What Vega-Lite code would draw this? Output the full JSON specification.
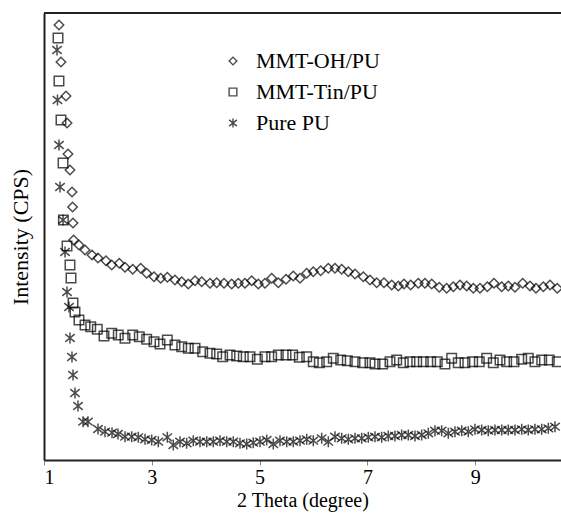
{
"$schema": "https://vega.github.io/schema/vega-lite/v6.json",
"width": 517, "height": 447,
"autosize": "none",
"padding": {"left": 44, "top": 13, "right": 0, "bottom": 62},
"background": "white",
"config": {"view": {"stroke": null}, "font": "Liberation Serif",
  "axis": {"labelFont": "Liberation Serif", "titleFont": "Liberation Serif"},
  "legend": {"labelFont": "Liberation Serif"},
  "text": {"font": "Liberation Serif"}},
"datasets": {
"pts": [
{"series":"MMT-OH/PU","x":1.278,"y":435},{"series":"MMT-OH/PU","x":1.315,"y":398},{"series":"MMT-OH/PU","x":1.408,"y":364},{"series":"MMT-OH/PU","x":1.427,"y":337},{"series":"MMT-OH/PU","x":1.445,"y":306},{"series":"MMT-OH/PU","x":1.482,"y":290},{"series":"MMT-OH/PU","x":1.52,"y":268},{"series":"MMT-OH/PU","x":1.53,"y":253},{"series":"MMT-OH/PU","x":1.538,"y":237},{"series":"MMT-OH/PU","x":1.55,"y":220},{"series":"MMT-OH/PU","x":1.649,"y":215},{"series":"MMT-OH/PU","x":1.761,"y":210},{"series":"MMT-OH/PU","x":1.891,"y":205},{"series":"MMT-OH/PU","x":2.002,"y":202},{"series":"MMT-OH/PU","x":2.15,"y":199.3},{"series":"MMT-OH/PU","x":2.256,"y":195},{"series":"MMT-OH/PU","x":2.397,"y":196.7},{"series":"MMT-OH/PU","x":2.503,"y":192.7},{"series":"MMT-OH/PU","x":2.646,"y":190.7},{"series":"MMT-OH/PU","x":2.794,"y":191.7},{"series":"MMT-OH/PU","x":2.905,"y":186.7},{"series":"MMT-OH/PU","x":3.041,"y":183.3},{"series":"MMT-OH/PU","x":3.165,"y":181.7},{"series":"MMT-OH/PU","x":3.288,"y":182.7},{"series":"MMT-OH/PU","x":3.43,"y":180},{"series":"MMT-OH/PU","x":3.555,"y":178.3},{"series":"MMT-OH/PU","x":3.677,"y":176},{"series":"MMT-OH/PU","x":3.802,"y":179.3},{"series":"MMT-OH/PU","x":3.926,"y":178.3},{"series":"MMT-OH/PU","x":4.08,"y":176.7},{"series":"MMT-OH/PU","x":4.204,"y":177.3},{"series":"MMT-OH/PU","x":4.34,"y":176.7},{"series":"MMT-OH/PU","x":4.482,"y":176},{"series":"MMT-OH/PU","x":4.605,"y":176.7},{"series":"MMT-OH/PU","x":4.729,"y":176.7},{"series":"MMT-OH/PU","x":4.853,"y":179.3},{"series":"MMT-OH/PU","x":4.976,"y":176},{"series":"MMT-OH/PU","x":5.1,"y":176.7},{"series":"MMT-OH/PU","x":5.224,"y":181.7},{"series":"MMT-OH/PU","x":5.347,"y":177.3},{"series":"MMT-OH/PU","x":5.49,"y":180.7},{"series":"MMT-OH/PU","x":5.625,"y":184},{"series":"MMT-OH/PU","x":5.75,"y":181.7},{"series":"MMT-OH/PU","x":5.874,"y":186.7},{"series":"MMT-OH/PU","x":5.996,"y":188.3},{"series":"MMT-OH/PU","x":6.134,"y":189.3},{"series":"MMT-OH/PU","x":6.275,"y":191.7},{"series":"MMT-OH/PU","x":6.399,"y":191.7},{"series":"MMT-OH/PU","x":6.523,"y":190.7},{"series":"MMT-OH/PU","x":6.646,"y":188.3},{"series":"MMT-OH/PU","x":6.77,"y":186},{"series":"MMT-OH/PU","x":6.924,"y":183.3},{"series":"MMT-OH/PU","x":7.048,"y":180},{"series":"MMT-OH/PU","x":7.173,"y":177.3},{"series":"MMT-OH/PU","x":7.308,"y":177.3},{"series":"MMT-OH/PU","x":7.451,"y":175},{"series":"MMT-OH/PU","x":7.573,"y":174},{"series":"MMT-OH/PU","x":7.679,"y":176},{"series":"MMT-OH/PU","x":7.803,"y":175},{"series":"MMT-OH/PU","x":7.944,"y":176.7},{"series":"MMT-OH/PU","x":8.068,"y":176.7},{"series":"MMT-OH/PU","x":8.193,"y":176},{"series":"MMT-OH/PU","x":8.334,"y":172.7},{"series":"MMT-OH/PU","x":8.471,"y":171.7},{"series":"MMT-OH/PU","x":8.594,"y":173.3},{"series":"MMT-OH/PU","x":8.718,"y":175},{"series":"MMT-OH/PU","x":8.842,"y":174},{"series":"MMT-OH/PU","x":8.965,"y":171.7},{"series":"MMT-OH/PU","x":9.089,"y":171.7},{"series":"MMT-OH/PU","x":9.225,"y":173.3},{"series":"MMT-OH/PU","x":9.349,"y":176.7},{"series":"MMT-OH/PU","x":9.492,"y":173.3},{"series":"MMT-OH/PU","x":9.614,"y":174},{"series":"MMT-OH/PU","x":9.738,"y":172.7},{"series":"MMT-OH/PU","x":9.881,"y":176.7},{"series":"MMT-OH/PU","x":10.017,"y":174},{"series":"MMT-OH/PU","x":10.128,"y":171.7},{"series":"MMT-OH/PU","x":10.264,"y":173.3},{"series":"MMT-OH/PU","x":10.388,"y":175},{"series":"MMT-OH/PU","x":10.523,"y":171.7},
{"series":"MMT-Tin/PU","x":1.26,"y":422},{"series":"MMT-Tin/PU","x":1.278,"y":379},{"series":"MMT-Tin/PU","x":1.315,"y":340},{"series":"MMT-Tin/PU","x":1.353,"y":297},{"series":"MMT-Tin/PU","x":1.36,"y":240},{"series":"MMT-Tin/PU","x":1.427,"y":214},{"series":"MMT-Tin/PU","x":1.482,"y":195},{"series":"MMT-Tin/PU","x":1.501,"y":182},{"series":"MMT-Tin/PU","x":1.538,"y":157},{"series":"MMT-Tin/PU","x":1.575,"y":148},{"series":"MMT-Tin/PU","x":1.649,"y":140},{"series":"MMT-Tin/PU","x":1.761,"y":135},{"series":"MMT-Tin/PU","x":1.867,"y":133.3},{"series":"MMT-Tin/PU","x":1.989,"y":130.7},{"series":"MMT-Tin/PU","x":2.113,"y":124},{"series":"MMT-Tin/PU","x":2.256,"y":126.7},{"series":"MMT-Tin/PU","x":2.378,"y":125},{"series":"MMT-Tin/PU","x":2.503,"y":121.7},{"series":"MMT-Tin/PU","x":2.646,"y":125},{"series":"MMT-Tin/PU","x":2.768,"y":123.3},{"series":"MMT-Tin/PU","x":2.905,"y":120.7},{"series":"MMT-Tin/PU","x":3.041,"y":118.3},{"series":"MMT-Tin/PU","x":3.152,"y":116},{"series":"MMT-Tin/PU","x":3.288,"y":120},{"series":"MMT-Tin/PU","x":3.43,"y":115},{"series":"MMT-Tin/PU","x":3.555,"y":113.3},{"series":"MMT-Tin/PU","x":3.677,"y":111.7},{"series":"MMT-Tin/PU","x":3.802,"y":111.7},{"series":"MMT-Tin/PU","x":3.944,"y":108.3},{"series":"MMT-Tin/PU","x":4.08,"y":106.7},{"series":"MMT-Tin/PU","x":4.204,"y":106},{"series":"MMT-Tin/PU","x":4.315,"y":103.3},{"series":"MMT-Tin/PU","x":4.451,"y":105},{"series":"MMT-Tin/PU","x":4.575,"y":104},{"series":"MMT-Tin/PU","x":4.698,"y":103.3},{"series":"MMT-Tin/PU","x":4.822,"y":103.3},{"series":"MMT-Tin/PU","x":4.958,"y":100.7},{"series":"MMT-Tin/PU","x":5.1,"y":103.3},{"series":"MMT-Tin/PU","x":5.224,"y":103.3},{"series":"MMT-Tin/PU","x":5.347,"y":105},{"series":"MMT-Tin/PU","x":5.49,"y":105},{"series":"MMT-Tin/PU","x":5.614,"y":105},{"series":"MMT-Tin/PU","x":5.737,"y":102.7},{"series":"MMT-Tin/PU","x":5.874,"y":103.3},{"series":"MMT-Tin/PU","x":5.996,"y":98.3},{"series":"MMT-Tin/PU","x":6.108,"y":97.3},{"series":"MMT-Tin/PU","x":6.245,"y":98.3},{"series":"MMT-Tin/PU","x":6.367,"y":101.7},{"series":"MMT-Tin/PU","x":6.505,"y":100},{"series":"MMT-Tin/PU","x":6.627,"y":99.3},{"series":"MMT-Tin/PU","x":6.77,"y":98.3},{"series":"MMT-Tin/PU","x":6.913,"y":97.3},{"series":"MMT-Tin/PU","x":7.048,"y":97.3},{"series":"MMT-Tin/PU","x":7.141,"y":96},{"series":"MMT-Tin/PU","x":7.284,"y":96},{"series":"MMT-Tin/PU","x":7.419,"y":98.3},{"series":"MMT-Tin/PU","x":7.544,"y":100},{"series":"MMT-Tin/PU","x":7.666,"y":97.3},{"series":"MMT-Tin/PU","x":7.79,"y":98.3},{"series":"MMT-Tin/PU","x":7.915,"y":98.3},{"series":"MMT-Tin/PU","x":8.037,"y":98.3},{"series":"MMT-Tin/PU","x":8.174,"y":98.3},{"series":"MMT-Tin/PU","x":8.297,"y":98.3},{"series":"MMT-Tin/PU","x":8.439,"y":96},{"series":"MMT-Tin/PU","x":8.564,"y":101.7},{"series":"MMT-Tin/PU","x":8.686,"y":97.3},{"series":"MMT-Tin/PU","x":8.81,"y":97.3},{"series":"MMT-Tin/PU","x":8.953,"y":98.3},{"series":"MMT-Tin/PU","x":9.076,"y":98.3},{"series":"MMT-Tin/PU","x":9.213,"y":101.7},{"series":"MMT-Tin/PU","x":9.336,"y":97.3},{"series":"MMT-Tin/PU","x":9.46,"y":100},{"series":"MMT-Tin/PU","x":9.584,"y":98.3},{"series":"MMT-Tin/PU","x":9.72,"y":98.3},{"series":"MMT-Tin/PU","x":9.863,"y":100.7},{"series":"MMT-Tin/PU","x":9.985,"y":101.7},{"series":"MMT-Tin/PU","x":10.109,"y":98.3},{"series":"MMT-Tin/PU","x":10.234,"y":100},{"series":"MMT-Tin/PU","x":10.375,"y":100},{"series":"MMT-Tin/PU","x":10.523,"y":98.3},
{"series":"Pure PU","x":1.241,"y":410},{"series":"Pure PU","x":1.25,"y":360},{"series":"Pure PU","x":1.278,"y":315},{"series":"Pure PU","x":1.297,"y":273},{"series":"Pure PU","x":1.353,"y":240},{"series":"Pure PU","x":1.39,"y":208},{"series":"Pure PU","x":1.427,"y":168},{"series":"Pure PU","x":1.464,"y":153},{"series":"Pure PU","x":1.482,"y":122},{"series":"Pure PU","x":1.519,"y":103},{"series":"Pure PU","x":1.538,"y":85},{"series":"Pure PU","x":1.575,"y":67},{"series":"Pure PU","x":1.631,"y":54},{"series":"Pure PU","x":1.724,"y":38.3},{"series":"Pure PU","x":1.816,"y":38.3},{"series":"Pure PU","x":2.002,"y":31},{"series":"Pure PU","x":2.132,"y":28.3},{"series":"Pure PU","x":2.262,"y":27.3},{"series":"Pure PU","x":2.373,"y":26},{"series":"Pure PU","x":2.503,"y":23.3},{"series":"Pure PU","x":2.627,"y":23.3},{"series":"Pure PU","x":2.75,"y":22.7},{"series":"Pure PU","x":2.874,"y":20.7},{"series":"Pure PU","x":2.998,"y":20},{"series":"Pure PU","x":3.121,"y":18.3},{"series":"Pure PU","x":3.288,"y":22.7},{"series":"Pure PU","x":3.399,"y":15},{"series":"Pure PU","x":3.523,"y":18.3},{"series":"Pure PU","x":3.647,"y":16.7},{"series":"Pure PU","x":3.77,"y":19.3},{"series":"Pure PU","x":3.894,"y":18.3},{"series":"Pure PU","x":4.019,"y":18.3},{"series":"Pure PU","x":4.141,"y":18.3},{"series":"Pure PU","x":4.265,"y":19.3},{"series":"Pure PU","x":4.39,"y":18.3},{"series":"Pure PU","x":4.512,"y":18.3},{"series":"Pure PU","x":4.636,"y":16.7},{"series":"Pure PU","x":4.761,"y":16},{"series":"Pure PU","x":4.883,"y":17.3},{"series":"Pure PU","x":5.007,"y":18.3},{"series":"Pure PU","x":5.132,"y":20},{"series":"Pure PU","x":5.254,"y":16},{"series":"Pure PU","x":5.378,"y":19.3},{"series":"Pure PU","x":5.503,"y":18.3},{"series":"Pure PU","x":5.625,"y":18.3},{"series":"Pure PU","x":5.75,"y":19.3},{"series":"Pure PU","x":5.874,"y":20.7},{"series":"Pure PU","x":5.996,"y":19.3},{"series":"Pure PU","x":6.152,"y":21.7},{"series":"Pure PU","x":6.275,"y":18.3},{"series":"Pure PU","x":6.399,"y":23.3},{"series":"Pure PU","x":6.523,"y":21.7},{"series":"Pure PU","x":6.646,"y":20.7},{"series":"Pure PU","x":6.77,"y":21.7},{"series":"Pure PU","x":6.894,"y":21.7},{"series":"Pure PU","x":7.017,"y":22.7},{"series":"Pure PU","x":7.141,"y":23.3},{"series":"Pure PU","x":7.265,"y":22.7},{"series":"Pure PU","x":7.388,"y":24},{"series":"Pure PU","x":7.512,"y":24},{"series":"Pure PU","x":7.636,"y":25},{"series":"Pure PU","x":7.759,"y":25},{"series":"Pure PU","x":7.883,"y":24},{"series":"Pure PU","x":8.007,"y":25},{"series":"Pure PU","x":8.13,"y":26.7},{"series":"Pure PU","x":8.254,"y":29.3},{"series":"Pure PU","x":8.378,"y":29.3},{"series":"Pure PU","x":8.501,"y":26.7},{"series":"Pure PU","x":8.625,"y":28.3},{"series":"Pure PU","x":8.75,"y":29.3},{"series":"Pure PU","x":8.872,"y":28.3},{"series":"Pure PU","x":8.996,"y":30.7},{"series":"Pure PU","x":9.12,"y":30},{"series":"Pure PU","x":9.243,"y":29.3},{"series":"Pure PU","x":9.367,"y":30},{"series":"Pure PU","x":9.492,"y":30},{"series":"Pure PU","x":9.614,"y":30},{"series":"Pure PU","x":9.738,"y":30},{"series":"Pure PU","x":9.863,"y":30.7},{"series":"Pure PU","x":9.985,"y":30},{"series":"Pure PU","x":10.109,"y":30.7},{"series":"Pure PU","x":10.234,"y":30.7},{"series":"Pure PU","x":10.357,"y":31.7},{"series":"Pure PU","x":10.481,"y":33.3}
],
"frame": [{"top": 447}]
},
"layer": [
{"data": {"name": "frame"},
 "mark": {"type": "rule", "color": "#222222", "strokeWidth": 2},
 "encoding": {"y": {"field": "top", "type": "quantitative", "scale": {"domain": [0, 447], "nice": false, "zero": false},
        "axis": {"labels": false, "ticks": false, "grid": false, "title": "Intensity (CPS)",
                 "domainColor": "#222222", "domainWidth": 2,
                 "titleFontSize": 22, "titleFontWeight": "normal", "titleColor": "black", "titleFont": "Liberation Serif", "titlePadding": 12}}}},
{"data": {"name": "pts"},
 "mark": {"type": "point", "filled": false, "color": "black", "strokeWidth": 1.5, "size": 90, "clip": true},
 "encoding": {
  "x": {"field": "x", "type": "quantitative",
        "scale": {"domain": [1, 10.592], "nice": false, "zero": false},
        "axis": {"values": [1, 3, 5, 7, 9], "grid": false, "title": "2 Theta (degree)",
                 "labelFontSize": 20, "labelColor": "black", "labelFont": "Liberation Serif",
                 "tickColor": "#888888", "tickSize": 5, "labelPadding": 2,
                 "domainColor": "#222222", "domainWidth": 2,
                 "titleFontSize": 20, "titleFontWeight": "normal", "titleColor": "black", "titleFont": "Liberation Serif", "titlePadding": 3}},
  "y": {"field": "y", "type": "quantitative",
        "scale": {"domain": [0, 447], "nice": false, "zero": false},
        "axis": {"labels": false, "ticks": false, "grid": false, "title": "Intensity (CPS)",
                 "domainColor": "#222222", "domainWidth": 2,
                 "titleFontSize": 22, "titleFontWeight": "normal", "titleColor": "black", "titleFont": "Liberation Serif", "titlePadding": 12}},
  "shape": {"field": "series", "type": "nominal",
            "scale": {"domain": ["MMT-OH/PU", "MMT-Tin/PU", "Pure PU"],
                      "range": ["diamond", "square", "M0,-1.15V1.15M-1,-0.8L1,0.8M-1,0.8L1,-0.8"]},
            "legend": {"title": null, "orient": "none", "legendX": 178, "legendY": 37,
                       "labelFontSize": 22, "labelFont": "Liberation Serif", "labelColor": "black",
                       "symbolSize": 60, "symbolStrokeWidth": 1.4, "symbolStrokeColor": "black", "symbolFillColor": "transparent",
                       "labelOffset": 12, "rowPadding": 9}}
 }}
]
}
